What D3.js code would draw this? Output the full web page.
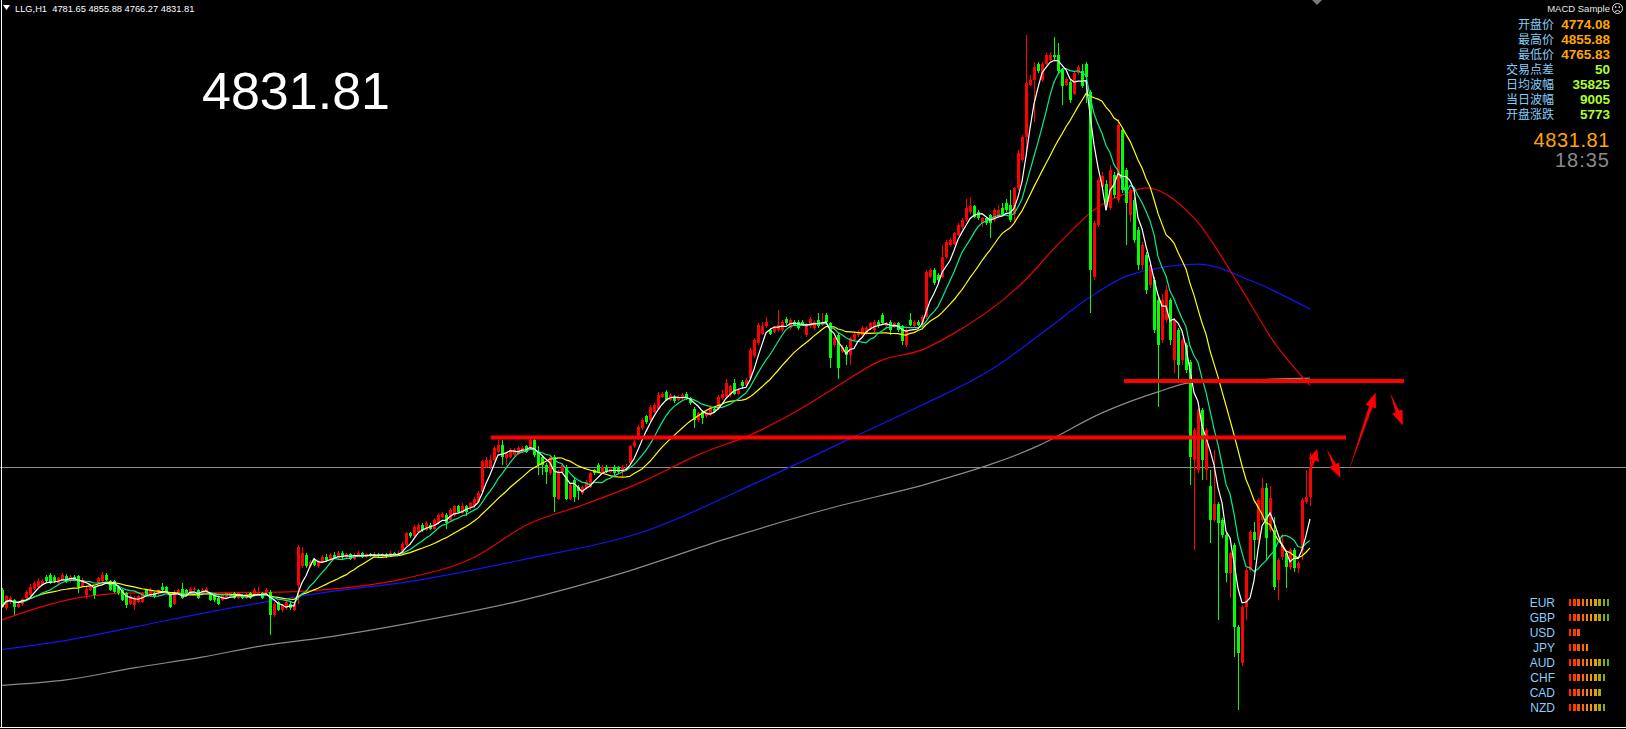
<!DOCTYPE html>
<html><head><meta charset="utf-8">
<script src="https://cdn.jsdelivr.net/npm/d3@7"></script>
<style>html,body{margin:0;padding:0;background:#000;overflow:hidden}svg{display:block}</style>
</head><body>
<svg id="c" width="1626" height="729"></svg>
<script>
// ---------------- DATA ----------------
const symbol = "LLG,H1";
// hourly bars: [open, close, high, low]
const ohlc = [
[4627,4599,4630,4596],[4596,4616,4619,4593],[4607,4613,4616,4604],[4610,4599,4612,4585],[4599,4604,4607,4596],[4603,4611,4614,4600],[4613,4624,4627,4611],[4618,4632,4636,4616],[4629,4638,4641,4627],[4632,4641,4646,4630],
[4635,4641,4645,4633],[4649,4641,4652,4638],[4652,4638,4655,4636],[4649,4641,4652,4639],[4638,4646,4649,4636],[4643,4652,4655,4641],[4650,4641,4653,4639],[4641,4649,4652,4639],[4649,4643,4651,4641],[4650,4632,4652,4621],
[4632,4643,4646,4630],[4618,4629,4632,4611],[4627,4632,4635,4625],[4632,4618,4634,4611],[4638,4646,4649,4636],[4641,4652,4656,4639],[4652,4643,4655,4641],[4641,4627,4643,4625],[4641,4624,4643,4621],[4632,4621,4634,4619],
[4627,4610,4629,4608],[4621,4602,4623,4596],[4604,4616,4619,4602],[4602,4613,4616,4593],[4607,4616,4618,4605],[4607,4621,4624,4605],[4627,4618,4629,4616],[4617,4627,4630,4615],[4622,4616,4624,4614],[4621,4627,4629,4619],
[4632,4627,4638,4625],[4632,4624,4634,4622],[4621,4599,4623,4596],[4604,4624,4627,4602],[4621,4627,4629,4619],[4629,4613,4638,4611],[4627,4621,4629,4619],[4624,4629,4632,4622],[4627,4629,4632,4625],[4627,4613,4629,4611],
[4621,4627,4630,4619],[4621,4629,4632,4619],[4621,4610,4623,4608],[4618,4610,4620,4607],[4613,4604,4615,4601],[4610,4618,4620,4608],[4613,4621,4623,4611],[4616,4621,4624,4614],[4621,4613,4623,4611],[4613,4621,4624,4611],
[4618,4613,4620,4611],[4613,4618,4621,4611],[4621,4613,4623,4611],[4618,4627,4630,4616],[4618,4624,4632,4616],[4621,4613,4623,4611],[4621,4627,4630,4619],[4624,4585,4626,4552],[4585,4604,4607,4582],[4607,4593,4609,4591],
[4593,4602,4604,4590],[4596,4607,4609,4594],[4604,4596,4606,4594],[4593,4604,4607,4591],[4635,4699,4702,4604],[4666,4688,4699,4663],[4685,4666,4688,4663],[4666,4674,4677,4663],[4677,4668,4680,4666],[4666,4674,4677,4664],
[4674,4682,4685,4671],[4682,4677,4686,4674],[4677,4685,4688,4675],[4685,4680,4690,4678],[4680,4688,4691,4677],[4688,4682,4691,4679],[4682,4686,4689,4680],[4686,4679,4688,4676],[4679,4685,4688,4677],[4685,4688,4692,4683],
[4688,4682,4690,4680],[4682,4686,4689,4680],[4686,4683,4689,4681],[4683,4687,4690,4681],[4687,4684,4689,4682],[4684,4686,4689,4681],[4686,4683,4688,4680],[4683,4688,4691,4681],[4688,4685,4690,4683],[4685,4689,4692,4683],
[4688,4704,4706,4686],[4702,4721,4724,4700],[4721,4716,4724,4713],[4716,4732,4735,4714],[4724,4735,4738,4722],[4735,4727,4738,4724],[4727,4738,4741,4725],[4735,4729,4738,4727],[4729,4743,4746,4727],[4738,4752,4755,4736],
[4748,4753,4756,4746],[4752,4738,4755,4729],[4743,4760,4763,4741],[4752,4766,4769,4749],[4766,4757,4769,4755],[4755,4766,4771,4753],[4766,4757,4768,4750],[4763,4771,4774,4760],[4766,4779,4782,4764],[4774,4788,4791,4771],
[4790,4841,4843,4788],[4832,4843,4849,4830],[4832,4843,4852,4829],[4843,4863,4866,4841],[4857,4868,4877,4855],[4868,4849,4877,4835],[4846,4854,4857,4835],[4849,4860,4863,4847],[4852,4860,4863,4850],[4854,4863,4866,4852],
[4857,4863,4866,4855],[4866,4857,4868,4855],[4863,4877,4880,4860],[4877,4852,4880,4849],[4857,4835,4866,4818],[4849,4835,4852,4818],[4835,4824,4838,4804],[4821,4849,4852,4818],[4849,4782,4852,4757],[4779,4824,4827,4776],
[4824,4835,4838,4821],[4832,4779,4835,4776],[4779,4802,4805,4776],[4810,4782,4813,4774],[4799,4791,4802,4777],[4788,4799,4802,4785],[4797,4807,4810,4794],[4799,4821,4824,4796],[4827,4821,4829,4819],[4835,4824,4838,4821],
[4824,4832,4835,4821],[4832,4824,4835,4821],[4824,4829,4832,4822],[4832,4821,4835,4819],[4832,4824,4834,4822],[4824,4832,4835,4815],[4827,4832,4836,4825],[4838,4866,4869,4835],[4866,4874,4877,4863],[4879,4899,4902,4877],
[4896,4910,4913,4893],[4916,4907,4918,4904],[4910,4932,4935,4907],[4924,4935,4938,4921],[4929,4952,4957,4927],[4949,4954,4957,4946],[4957,4943,4960,4941],[4943,4952,4955,4941],[4949,4941,4952,4938],[4943,4949,4952,4941],
[4946,4952,4955,4943],[4954,4946,4957,4943],[4946,4938,4949,4935],[4929,4910,4932,4896],[4910,4921,4924,4907],[4924,4913,4927,4904],[4916,4924,4927,4913],[4918,4932,4935,4916],[4929,4924,4932,4921],[4929,4949,4952,4927],
[4946,4954,4960,4943],[4949,4971,4979,4946],[4952,4966,4969,4949],[4971,4954,4979,4952],[4954,4960,4963,4952],[4974,4966,4977,4963],[4968,4977,4980,4966],[4980,5027,5030,4977],[5016,5043,5046,5013],[5038,5068,5071,5035],
[5054,5066,5074,5052],[5066,5074,5082,5063],[5060,5054,5063,5052],[5057,5063,5066,5055],[5060,5068,5093,5057],[5060,5074,5077,5057],[5079,5071,5082,5068],[5063,5077,5080,5060],[5074,5068,5077,5066],[5074,5063,5077,5060],
[5074,5068,5077,5066],[5052,5068,5071,5049],[5066,5079,5082,5063],[5063,5074,5077,5060],[5077,5066,5088,5063],[5068,5074,5088,5066],[5085,5074,5088,5071],[5071,5013,5074,4996],[5035,5046,5049,5032],[5052,4996,5055,4979],
[5024,5032,5035,5021],[5032,5018,5035,5002],[5018,5046,5049,5002],[5043,5054,5057,5041],[5052,5057,5060,5049],[5052,5063,5066,5049],[5054,5063,5066,5052],[5063,5071,5074,5060],[5060,5074,5077,5057],[5074,5066,5077,5063],
[5085,5071,5088,5068],[5066,5071,5074,5063],[5074,5060,5077,5052],[5066,5071,5074,5063],[5071,5060,5074,5057],[5066,5041,5068,5035],[5035,5060,5063,5032],[5077,5068,5088,5066],[5066,5074,5077,5063],[5074,5068,5077,5066],
[5068,5082,5085,5066],[5082,5157,5160,5079],[5149,5160,5163,5146],[5160,5138,5163,5135],[5152,5143,5155,5140],[5149,5182,5202,5146],[5182,5207,5210,5179],[5202,5210,5213,5199],[5204,5221,5224,5202],[5218,5235,5238,5216],
[5232,5243,5246,5229],[5243,5263,5279,5240],[5257,5266,5282,5254],[5266,5249,5269,5246],[5257,5246,5260,5243],[5238,5246,5249,5232],[5246,5238,5249,5235],[5252,5238,5254,5213],[5243,5260,5263,5240],[5249,5260,5268,5246],
[5263,5254,5271,5252],[5271,5260,5279,5257],[5268,5243,5293,5240],[5254,5296,5299,5238],[5296,5355,5360,5293],[5343,5382,5385,5340],[5382,5471,5552,5349],[5468,5477,5485,5466],[5477,5499,5507,5407],[5504,5491,5507,5488],
[5477,5504,5507,5474],[5504,5518,5521,5501],[5510,5518,5524,5507],[5518,5515,5549,5510],[5518,5491,5538,5488],[5493,5466,5496,5435],[5468,5479,5482,5466],[5474,5443,5477,5438],[5454,5488,5491,5452],[5488,5499,5502,5485],
[5491,5466,5504,5463],[5504,5482,5507,5438],[5457,5160,5460,5088],[5148,5238,5241,5143],[5235,5310,5313,5232],[5299,5316,5324,5296],[5304,5274,5310,5260],[5263,5327,5335,5260],[5318,5285,5324,5280],[5277,5402,5412,5271],
[5393,5293,5396,5288],[5327,5272,5330,5202],[5252,5293,5296,5240],[5277,5210,5282,5205],[5227,5168,5232,5160],[5168,5202,5207,5160],[5185,5127,5190,5120],[5135,5168,5171,5130],[5143,5060,5149,5055],[5110,5035,5113,4932],
[5043,5110,5120,5038],[5077,5127,5135,5071],[5110,5043,5113,5035],[5010,5077,5080,4988],[5060,5002,5063,4975],[5010,5043,5046,5002],[5035,4993,5038,4988],[5007,4848,5010,4802],[4843,4893,4896,4693],[4827,4927,4930,4822],
[4927,4843,4930,4810],[4827,4893,4896,4810],[4800,4743,4827,4705],[4743,4770,4860,4740],[4770,4738,4773,4577],[4743,4718,4746,4713],[4718,4655,4721,4640],[4655,4688,4690,4613],[4702,4565,4705,4515],[4565,4522,4568,4427],
[4505,4598,4601,4500],[4598,4660,4663,4577],[4660,4723,4726,4657],[4723,4710,4740,4677],[4710,4777,4780,4705],[4743,4797,4813,4740],[4797,4713,4805,4677],[4727,4780,4800,4723],[4727,4632,4748,4627],[4643,4677,4680,4610],
[4682,4702,4720,4677],[4688,4665,4690,4630],[4665,4693,4696,4660],[4693,4663,4696,4657],[4663,4672,4675,4655],[4693,4777,4780,4677],[4773,4782,4827,4770],[4781.65,4831.81,4855.88,4766.27]
];
// fast moving-average periods (white, spring green, yellow)
const fastPeriods = [5, 10, 20];
// slow moving averages: [bar index, price]
const maRed = [[0,4577],[20,4615],[33,4622],[66,4623],[80,4627],[100,4645],[117,4678],[132,4738],[145,4768],[160,4807],[175,4855],[187,4885],[200,4930],[208,4963],[220,5010],[230,5027],[236,5047],[255,5138],[265,5210],[274,5265],[282,5290],[286,5297],[298,5247],[310,5127],[318,5040],[327,4968]];
const maBlue = [[0,4528],[16,4543],[33,4565],[50,4588],[66,4607],[80,4622],[103,4642],[130,4677],[160,4723],[190,4810],[213,4882],[230,4935],[247,4993],[261,5060],[272,5115],[282,5152],[299,5170],[312,5143],[327,5095]];
const maGray = [[0,4468],[16,4477],[33,4497],[50,4515],[66,4535],[80,4547],[103,4573],[129,4608],[155,4655],[181,4712],[207,4763],[233,4807],[259,4867],[275,4922],[289,4957],[297,4972],[327,4980]];
// horizontal levels: [from bar, to bar, price]
const levels = [[122.2,336,4881],[280.5,350.5,4975]];
// drawn arrows: [tail bar, tail price, tip bar, tip price]
const arrows = [[326.8,4820,328.8,4862],[331.2,4862,334.6,4814],[336.5,4822,343.4,4956],[347,4956,350.2,4901]];
const bidPrice = 4831.81;
const infoLabels = ["开盘价","最高价","最低价","交易点差","日均波幅","当日波幅","开盘涨跌"];
const infoValues = ["4774.08","4855.88","4765.83","50","35825","9005","5773"];
const clockText = "18:35";
const currencies = ["EUR","GBP","USD","JPY","AUD","CHF","CAD","NZD"];
const strength = [10,10,3,5,10,9,8,9];
const strengthColors = ["#ff2a00","#ff3c00","#ff5200","#ff6a00","#ff8400","#f59a00","#d8a400","#b0a800","#88b000","#5cb400"];

// ---------------- CHART ----------------
const svg = d3.select("#c");
const n = ohlc.length;
const x = d3.scaleLinear().domain([0, n - 1]).range([2, 1310]);
const y = d3.scaleLinear().domain([4398.5, 5610.1]).range([727, 0]);
svg.append("rect").attr("width",1626).attr("height",729).attr("fill","#000");

// bid line
svg.append("line").attr("x1",0).attr("x2",1626).attr("y1",Math.round(y(bidPrice))+0.5).attr("y2",Math.round(y(bidPrice))+0.5)
  .attr("stroke","#8c8c8c").attr("stroke-width",1);

// slow MAs
const ptLine = d3.line().x(d=>x(d[0])).y(d=>y(d[1])).curve(d3.curveMonotoneX);
[[maGray,"#8a8a8a"],[maBlue,"#1414f0"],[maRed,"#e80000"]].forEach(([d,c])=>{
  svg.append("path").attr("d",ptLine(d)).attr("fill","none").attr("stroke",c).attr("stroke-width",1.2);
});

// candles
const cg = svg.append("g").attr("shape-rendering","crispEdges");
const col = d => d[1] >= d[0] ? "#ff0000" : "#00ff00";
cg.selectAll("rect.w").data(ohlc).join("rect").attr("class","w")
  .attr("x",(d,i)=>Math.round(x(i)))
  .attr("y",d=>Math.round(y(d[2])))
  .attr("width",1)
  .attr("height",d=>Math.max(1,Math.round(y(d[3]))-Math.round(y(d[2]))))
  .attr("fill",col);
cg.selectAll("rect.b").data(ohlc).join("rect").attr("class","b")
  .attr("x",(d,i)=>Math.round(x(i))-1)
  .attr("y",d=>Math.round(y(Math.max(d[0],d[1]))))
  .attr("width",3)
  .attr("height",d=>Math.max(1,Math.round(y(Math.min(d[0],d[1])))-Math.round(y(Math.max(d[0],d[1])))))
  .attr("fill",col);

// fast MAs computed from closes
const closes = ohlc.map(d=>d[1]);
function sma(p){ return closes.map((_,i)=>{const s=Math.max(0,i-p+1); let t=0; for(let k=s;k<=i;k++) t+=closes[k]; return t/(i-s+1);}); }
const fastColors = ["#ffffff","#00f08c","#ffff00"];
const idxLine = d3.line().x((d,i)=>x(i)).y(d=>y(d));
fastPeriods.slice().reverse().forEach((p,k)=>{
  const c = fastColors[fastPeriods.length-1-k];
  svg.append("path").attr("d",idxLine(sma(p))).attr("fill","none").attr("stroke",c).attr("stroke-width",1.2);
});

// horizontal red levels
svg.selectAll("line.lv").data(levels).join("line").attr("class","lv")
  .attr("x1",d=>x(d[0])).attr("x2",d=>x(d[1])).attr("y1",d=>y(d[2])).attr("y2",d=>y(d[2]))
  .attr("stroke","#ff0000").attr("stroke-width",4);

// arrows
function arrowPts(a){
  const x0=x(a[0]),y0=y(a[1]),x1=x(a[2]),y1=y(a[3]);
  const dx=x1-x0,dy=y1-y0,L=Math.hypot(dx,dy),ux=dx/L,uy=dy/L,nx=-uy,ny=ux;
  const hl=Math.min(15,L*0.45),hw=5.5,sw=1.8;
  const bx=x1-ux*hl,by=y1-uy*hl;
  return [[x0,y0],[bx+nx*sw,by+ny*sw],[bx+nx*hw,by+ny*hw],[x1,y1],[bx-nx*hw,by-ny*hw],[bx-nx*sw,by-ny*sw]];
}
svg.selectAll("polygon.ar").data(arrows).join("polygon").attr("class","ar")
  .attr("points",d=>arrowPts(d).map(p=>p.join(",")).join(" ")).attr("fill","#ff0000");

// frame
svg.append("line").attr("x1",1.5).attr("x2",1.5).attr("y1",0).attr("y2",728).attr("stroke","#ffffff").attr("stroke-width",1);
svg.append("line").attr("x1",0).attr("x2",1626).attr("y1",727.5).attr("y2",727.5).attr("stroke","#ffffff").attr("stroke-width",1);
// shift marker
svg.append("path").attr("d",`M${x(n-1)+2},0 L${x(n-1)+12},0 L${x(n-1)+7},5 Z`).attr("fill","#7a7a7a");

// header
const last = ohlc[n-1];
svg.append("path").attr("d","M3,5 L10,5 L6.5,10 Z").attr("fill","#ffffff");
svg.append("text").attr("x",15).attr("y",12).attr("fill","#ffffff")
  .attr("font-family","Liberation Sans, Arial, sans-serif").attr("font-size","9.3px")
  .attr("xml:space","preserve")
  .text(`${symbol}  ${last[0].toFixed(2)} ${last[2].toFixed(2)} ${last[3].toFixed(2)} ${last[1].toFixed(2)}`);

// big price
svg.append("text").attr("x",202).attr("y",109).attr("fill","#ffffff")
  .attr("font-family","Liberation Sans, Arial, sans-serif").attr("font-size","52px")
  .text(bidPrice.toFixed(2));

// right info panel
svg.append("text").attr("x",1610).attr("y",12).attr("text-anchor","end").attr("fill","#e6e6e6")
  .attr("font-family","Liberation Sans, Arial, sans-serif").attr("font-size","9.5px").text("MACD Sample");
const face = svg.append("g").attr("fill","none").attr("stroke","#e6e6e6").attr("stroke-width",1);
face.append("circle").attr("cx",1617.5).attr("cy",8.5).attr("r",5);
face.append("circle").attr("cx",1615.7).attr("cy",7).attr("r",0.5).attr("fill","#e6e6e6");
face.append("circle").attr("cx",1619.3).attr("cy",7).attr("r",0.5).attr("fill","#e6e6e6");
face.append("path").attr("d","M1615,11.6 Q1617.5,9.3 1620,11.6");

const rowY = i => 28.5 + i*15;
svg.selectAll("text.il").data(infoLabels).join("text").attr("class","il")
  .attr("x",1554).attr("y",(d,i)=>rowY(i)).attr("text-anchor","end").attr("fill","#87cefa")
  .attr("font-family","Noto Sans CJK SC, sans-serif").attr("font-size","12px").text(d=>d);
svg.selectAll("text.iv").data(infoValues).join("text").attr("class","iv")
  .attr("x",1610).attr("y",(d,i)=>rowY(i)).attr("text-anchor","end")
  .attr("fill",(d,i)=>i<3?"#ffa500":"#adff2f").attr("font-weight","bold")
  .attr("font-family","Liberation Sans, Arial, sans-serif").attr("font-size","13.5px").text(d=>d);
svg.append("text").attr("x",1610).attr("y",147).attr("text-anchor","end").attr("fill","#ffa500")
  .attr("font-family","Liberation Sans, Arial, sans-serif").attr("font-size","20px").attr("letter-spacing","0.6px")
  .text(bidPrice.toFixed(2));
svg.append("text").attr("x",1610).attr("y",167).attr("text-anchor","end").attr("fill","#8a8a8a")
  .attr("font-family","Liberation Sans, Arial, sans-serif").attr("font-size","20px").attr("letter-spacing","1px")
  .text(clockText);

// currency strength
const cy0 = 602, cdy = 15;
svg.selectAll("text.cur").data(currencies).join("text").attr("class","cur")
  .attr("x",1555).attr("y",(d,i)=>cy0+i*cdy+4.5).attr("text-anchor","end").attr("fill","#87cefa")
  .attr("font-family","Liberation Sans, Arial, sans-serif").attr("font-size","12px").text(d=>d);
const sg = svg.append("g").attr("shape-rendering","crispEdges");
currencies.forEach((c,i)=>{
  d3.range(strength[i]).forEach(k=>{
    sg.append("rect").attr("x",1569+k*4.2).attr("y",cy0+i*cdy-3.5).attr("width",2.4).attr("height",7)
      .attr("fill",strengthColors[k]);
  });
});
</script>
</body></html>
